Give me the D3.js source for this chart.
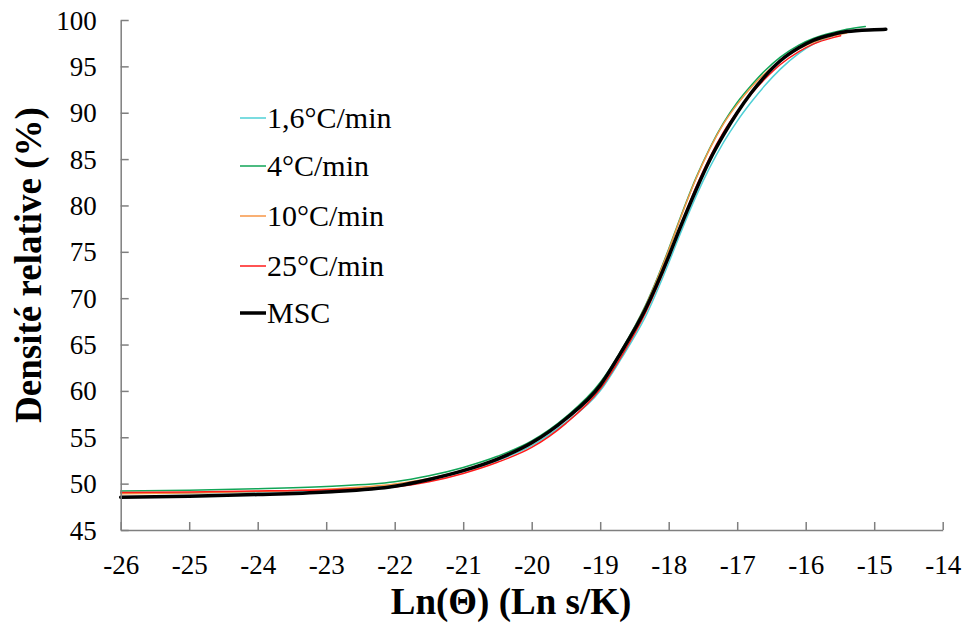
<!DOCTYPE html>
<html><head><meta charset="utf-8">
<script src="https://cdn.jsdelivr.net/npm/d3@7"></script>
<style>body{margin:0;background:#fff}svg{display:block}</style>
</head><body><svg id="c" width="965" height="626"></svg>
<script>
const xTicks = [-26,-25,-24,-23,-22,-21,-20,-19,-18,-17,-16,-15,-14];
const yTicks = [45,50,55,60,65,70,75,80,85,90,95,100];
const seriesNames = ["1,6°C/min","4°C/min","10°C/min","25°C/min","MSC"];
const seriesColors = ["#4fd0d6","#11a557","#f79646","#ff1a1a","#000000"];

const s16 = [[-26,48.95],[-25,49.0],[-24,49.1],[-23,49.3],[-22,49.8],[-21.5,50.45],[-21,51.3],[-20.5,52.5],[-20,54.1],[-19.5,56.6],[-19,60.0],[-18.7,63.4],[-18.34,68.0],[-18,73.8],[-17.85,76.6],[-17.6,81.0],[-17.4,84.1],[-17.2,86.8],[-17.0,89.1],[-16.8,91.1],[-16.6,92.9],[-16.37,94.7],[-16.1,96.4],[-15.89,97.4],[-15.6,98.3],[-15.4,98.7],[-15.2,98.9]];
const s4 = [[-26,49.2],[-25,49.3],[-24,49.45],[-23,49.7],[-22,50.2],[-21.5,50.85],[-21,51.75],[-20.5,52.95],[-20,54.6],[-19.5,57.2],[-19,60.9],[-18.7,64.3],[-18.34,69.2],[-18,75.3],[-17.85,78.3],[-17.6,83.0],[-17.4,86.2],[-17.2,88.9],[-17.0,91.1],[-16.8,92.9],[-16.6,94.5],[-16.37,96.0],[-16.1,97.3],[-15.89,98.0],[-15.6,98.65],[-15.4,99.0],[-15.13,99.3]];
const s10 = [[-26,48.9],[-25,49.0],[-24,49.15],[-23,49.4],[-22,49.95],[-21.5,50.55],[-21,51.45],[-20.5,52.65],[-20,54.3],[-19.5,57.0],[-19,60.7],[-18.7,64.2],[-18.34,69.1],[-18,75.2],[-17.85,78.2],[-17.6,82.9],[-17.4,86.1],[-17.2,88.8],[-17.0,90.9],[-16.8,92.7],[-16.6,94.2],[-16.37,95.6],[-16.1,96.9],[-15.89,97.6],[-15.6,98.3],[-15.4,98.6]];
const s25 = [[-26,49.05],[-25,49.1],[-24,49.2],[-23,49.35],[-22,49.65],[-21.5,50.2],[-21,51.1],[-20.5,52.3],[-20,53.9],[-19.5,56.5],[-19,60.2],[-18.7,63.6],[-18.34,68.4],[-18,74.3],[-17.85,77.3],[-17.6,82.0],[-17.4,85.2],[-17.2,87.9],[-17.0,90.1],[-16.8,92.0],[-16.6,93.6],[-16.37,95.2],[-16.1,96.6],[-15.89,97.4],[-15.6,98.1],[-15.49,98.3]];
const msc = [[-26,48.53],[-25,48.65],[-24,48.82],[-23,49.1],[-22,49.72],[-21.5,50.45],[-21,51.4],[-20.5,52.65],[-20,54.4],[-19.5,57.0],[-19,60.6],[-18.7,64.1],[-18.34,68.8],[-18,74.5],[-17.85,77.3],[-17.6,81.7],[-17.4,84.9],[-17.2,87.6],[-17.0,90.0],[-16.8,92.1],[-16.6,93.9],[-16.37,95.6],[-16.1,97.0],[-15.89,97.8],[-15.6,98.45],[-15.4,98.75],[-15.0,98.95],[-14.83,99.0]];
const seriesData = [s16, s4, s10, s25, msc];

const svg = d3.select("#c");
const L = 120.7, R = 942.7, T = 20, B = 530;
const x = d3.scaleLinear().domain([-26,-14]).range([L,R]);
const y = d3.scaleLinear().domain([45,100]).range([B,T]);
const FONT = '"Liberation Serif"';
const axisColor = "#7f7f7f";

const xAxis = svg.append("g").attr("transform",`translate(0,${B})`)
  .call(d3.axisBottom(x).tickValues(xTicks).tickSizeInner(-8).tickSizeOuter(0).tickPadding(44).tickFormat(d=>d));
const yAxis = svg.append("g").attr("transform",`translate(${L},0)`)
  .call(d3.axisLeft(y).tickValues(yTicks).tickSizeInner(-8).tickSizeOuter(0).tickPadding(24).tickFormat(d=>d));
[xAxis,yAxis].forEach(g=>{
  g.attr("font-family",null).attr("font-size",null);
  g.select(".domain").attr("stroke",axisColor).attr("stroke-width",1.5);
  g.selectAll(".tick line").attr("stroke",axisColor).attr("stroke-width",1.5);
  g.selectAll(".tick text").attr("dy",null).attr("fill","#000").style("font-family",FONT).style("font-size","27px");
});
yAxis.selectAll(".tick text").attr("y",9);

const line = d3.line().x(d=>x(d[0])).y(d=>y(d[1])).curve(d3.curveMonotoneX);
const linesG = svg.insert("g",":first-child");
seriesData.forEach((s,i)=>{
  linesG.append("path").datum(s).attr("d",line).attr("fill","none")
    .attr("stroke",seriesColors[i]).attr("stroke-width", i===4?3.5:1.5)
    .attr("stroke-linejoin","round").attr("stroke-linecap","round");
});

const legY = [118,166,216,266,313];
seriesNames.forEach((n,i)=>{
  svg.append("line").attr("x1",240).attr("x2",266).attr("y1",legY[i]).attr("y2",legY[i])
    .attr("stroke",seriesColors[i]).attr("stroke-width", i===4?3.5:1.5);
});
seriesNames.forEach((n,i)=>{
  svg.append("text").attr("x",267).attr("y",legY[i]+10)
    .style("font-family",FONT).style("font-size","30px").text(n);
});

const k = 37/28;
svg.append("text").attr("transform",`translate(511,614) scale(${k})`).attr("text-anchor","middle")
  .style("font-family",FONT).style("font-size","28px").style("font-weight","bold")
  .text("Ln(Θ) (Ln s/K)");
svg.append("text").attr("transform",`translate(41,265) rotate(-90) scale(${k})`).attr("text-anchor","middle")
  .style("font-family",FONT).style("font-size","28px").style("font-weight","bold")
  .text("Densité relative (%)");
</script></body></html>
